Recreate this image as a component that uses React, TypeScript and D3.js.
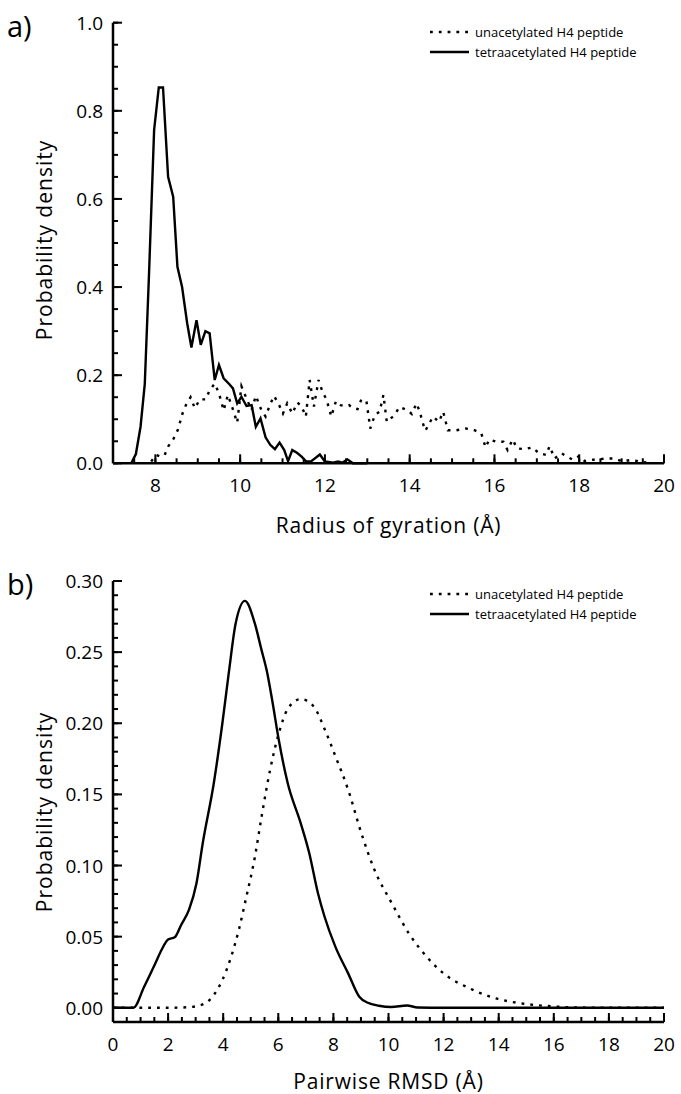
import React from "react";
import * as d3 from "d3";

// ---------- Panel a: Radius of gyration ----------
const rgUnacX = [7.9, 8.02, 8.12, 8.22, 8.3, 8.42, 8.53, 8.64, 8.72, 8.83, 8.93, 9.05, 9.19, 9.28, 9.4, 9.5, 9.61, 9.71, 9.82, 9.93, 10.03, 10.15, 10.27, 10.37, 10.5, 10.6, 10.7, 10.8, 10.92, 11.01, 11.11, 11.23, 11.35, 11.45, 11.55, 11.64, 11.74, 11.85, 11.94, 12.04, 12.15, 12.26, 12.37, 12.47, 12.57, 12.66, 12.77, 12.86, 12.98, 13.07, 13.18, 13.29, 13.38, 13.46, 13.64, 13.76, 13.94, 14.05, 14.16, 14.24, 14.3, 14.37, 14.55, 14.69, 14.79, 14.9, 15.1, 15.32, 15.53, 15.69, 15.79, 15.88, 16.04, 16.21, 16.31, 16.43, 16.53, 16.71, 16.89, 17.05, 17.22, 17.3, 17.42, 17.58, 17.73, 17.85, 18.01, 18.13, 18.32, 18.48, 18.64, 18.83, 19.03, 19.23, 19.42, 19.58];
const rgUnacY = [0.004, 0.019, 0.015, 0.019, 0.038, 0.054, 0.076, 0.113, 0.132, 0.15, 0.125, 0.145, 0.145, 0.166, 0.181, 0.159, 0.12, 0.155, 0.125, 0.092, 0.175, 0.147, 0.121, 0.153, 0.121, 0.106, 0.132, 0.153, 0.132, 0.113, 0.136, 0.113, 0.138, 0.129, 0.106, 0.189, 0.129, 0.189, 0.163, 0.144, 0.106, 0.141, 0.132, 0.13, 0.132, 0.125, 0.123, 0.145, 0.141, 0.079, 0.11, 0.117, 0.155, 0.094, 0.109, 0.128, 0.121, 0.112, 0.136, 0.117, 0.094, 0.074, 0.106, 0.094, 0.117, 0.075, 0.075, 0.079, 0.075, 0.068, 0.036, 0.054, 0.049, 0.049, 0.03, 0.054, 0.034, 0.032, 0.036, 0.023, 0.019, 0.039, 0.011, 0.023, 0.014, 0.008, 0.017, 0.005, 0.008, 0.009, 0.011, 0.011, 0.004, 0.008, 0.004, 0.002];

const rgAcetX = [7.43, 7.54, 7.65, 7.75, 7.85, 7.97, 8.08, 8.18, 8.3, 8.42, 8.52, 8.63, 8.75, 8.85, 8.97, 9.07, 9.18, 9.28, 9.4, 9.5, 9.61, 9.74, 9.83, 9.93, 10.03, 10.15, 10.27, 10.37, 10.48, 10.6, 10.71, 10.82, 10.93, 11.04, 11.13, 11.23, 11.34, 11.45, 11.56, 11.68, 11.88, 12.0, 12.19, 12.31, 12.41, 12.53, 12.66, 13.0];
const rgAcetY = [0, 0.021, 0.083, 0.18, 0.43, 0.756, 0.853, 0.853, 0.65, 0.605, 0.446, 0.4, 0.318, 0.263, 0.325, 0.269, 0.3, 0.295, 0.189, 0.223, 0.193, 0.18, 0.17, 0.136, 0.151, 0.13, 0.132, 0.083, 0.102, 0.059, 0.042, 0.032, 0.047, 0.03, 0.005, 0.03, 0.024, 0.015, 0.004, 0.005, 0.02, 0.004, 0.0015, 0.004, 0.0015, 0.009, 0, 0];

// ---------- Panel b: Pairwise RMSD ----------
const rmsdUnacX = [0, 1, 2, 2.8, 3.34, 3.66, 3.97, 4.29, 4.57, 4.84, 5.15, 5.39, 5.7, 6.02, 6.34, 6.81, 7.28, 7.68, 8.07, 8.54, 9.01, 9.49, 10.12, 10.75, 11.38, 12.01, 12.95, 13.9, 14.85, 15.8, 16.9, 18, 20];
const rmsdUnacY = [0, 0, 0, 0.0005, 0.003, 0.009, 0.0195, 0.036, 0.055, 0.078, 0.106, 0.134, 0.167, 0.193, 0.21, 0.217, 0.212, 0.196, 0.177, 0.153, 0.123, 0.097, 0.0735, 0.052, 0.036, 0.024, 0.0136, 0.0066, 0.003, 0.0012, 0.0002, 0, 0];

const rmsdAcetX = [0, 0.74, 1.13, 1.53, 1.77, 2.0, 2.24, 2.47, 2.76, 3.03, 3.26, 3.66, 3.97, 4.2, 4.45, 4.79, 5.15, 5.39, 5.58, 5.78, 6.02, 6.34, 6.81, 7.12, 7.44, 7.68, 8.07, 8.54, 8.94, 9.25, 9.65, 10.1, 10.67, 11.06, 12, 20];
const rmsdAcetY = [0, 0, 0.0148, 0.031, 0.041, 0.048, 0.0495, 0.058, 0.069, 0.0876, 0.116, 0.158, 0.2, 0.235, 0.27, 0.286, 0.27, 0.2516, 0.237, 0.216, 0.188, 0.158, 0.13, 0.109, 0.0805, 0.064, 0.043, 0.024, 0.0077, 0.0035, 0.0014, 0.0005, 0.0016, 0.0002, 0, 0];

// ---------- ticks & labels ----------
const rgXTicks = [8, 10, 12, 14, 16, 18, 20];
const rgYTicks = [0.0, 0.2, 0.4, 0.6, 0.8, 1.0];
const rmsdXTicks = [0, 2, 4, 6, 8, 10, 12, 14, 16, 18, 20];
const rmsdYTicks = [0.0, 0.05, 0.1, 0.15, 0.2, 0.25, 0.3];
const seriesNames = ["unacetylated H4 peptide", "tetraacetylated H4 peptide"];

const FONT = "'Open Sans', Lato, sans-serif";
const AXW = 2.5;
const LW = 2.4;

type PanelProps = {
  label: string;
  top: number;
  bottom: number;
  xDomain: [number, number];
  yDomain: [number, number];
  xTicks: number[];
  yTicks: number[];
  xMinorStep: number;
  yMinorStep: number;
  yFmt: (v: number) => string;
  xTitle: string;
  unacX: number[];
  unacY: number[];
  acetX: number[];
  acetY: number[];
  curve: d3.CurveFactory;
  legendY: number;
  labelY: number;
  xTitleY: number;
  yTitleY: number;
};

function Panel(p: PanelProps) {
  const left = 113;
  const right = 664;
  const x = d3.scaleLinear().domain(p.xDomain).range([left, right]);
  const y = d3.scaleLinear().domain(p.yDomain).range([p.bottom, p.top]);
  const line = d3
    .line<[number, number]>()
    .x((d) => x(d[0]))
    .y((d) => y(d[1]))
    .curve(p.curve);
  const unac = p.unacX.map((v, i) => [v, p.unacY[i]] as [number, number]);
  const acet = p.acetX.map((v, i) => [v, p.acetY[i]] as [number, number]);

  const xMinor = d3.range(p.xDomain[0], p.xDomain[1] + 1e-9, p.xMinorStep);
  const yStart = Math.ceil((p.yDomain[0] - 1e-9) / p.yMinorStep) * p.yMinorStep;
  const yMinor = d3.range(yStart, p.yDomain[1] + 1e-9, p.yMinorStep);
  const axisY = p.bottom;

  return (
    <g>
      <text x={7} y={p.labelY} fontSize={29} fontFamily={FONT}>
        {p.label}
      </text>
      {/* curves */}
      <path d={line(unac) || ""} fill="none" stroke="#000" strokeWidth={LW} strokeDasharray="2.8 6" />
      <path d={line(acet) || ""} fill="none" stroke="#000" strokeWidth={LW} strokeLinejoin="miter" />
      {/* axes */}
      <line x1={left} x2={left} y1={y(p.yDomain[1])} y2={axisY} stroke="#000" strokeWidth={AXW} />
      <line x1={left} x2={right} y1={axisY} y2={axisY} stroke="#000" strokeWidth={AXW} />
      {xMinor.map((v, i) => (
        <line key={"xm" + i} x1={x(v)} x2={x(v)} y1={axisY} y2={axisY - 5} stroke="#000" strokeWidth={2} />
      ))}
      {p.xTicks.map((v) => (
        <g key={"xt" + v}>
          <line x1={x(v)} x2={x(v)} y1={axisY} y2={axisY - 9} stroke="#000" strokeWidth={2} />
          <text x={x(v)} y={axisY + 29} textAnchor="middle" fontSize={19} fontFamily={FONT}>
            {v}
          </text>
        </g>
      ))}
      {yMinor.map((v, i) => (
        <line key={"ym" + i} x1={left} x2={left + 5} y1={y(v)} y2={y(v)} stroke="#000" strokeWidth={2} />
      ))}
      {p.yTicks.map((v) => (
        <g key={"yt" + v}>
          <line x1={left} x2={left + 9} y1={y(v)} y2={y(v)} stroke="#000" strokeWidth={2} />
          <text x={left - 10} y={y(v) + 7} textAnchor="end" fontSize={19} fontFamily={FONT}>
            {p.yFmt(v)}
          </text>
        </g>
      ))}
      <text
        transform={`translate(52, ${p.yTitleY}) rotate(-90)`}
        textAnchor="middle"
        fontSize={21}
        letterSpacing={1}
        fontFamily={FONT}
      >
        Probability density
      </text>
      <text
        x={(left + right) / 2}
        y={p.xTitleY}
        textAnchor="middle"
        fontSize={21}
        letterSpacing={0.8}
        fontFamily={FONT}
      >
        {p.xTitle}
      </text>
      {/* legend */}
      <line x1={430} x2={469} y1={p.legendY} y2={p.legendY} stroke="#000" strokeWidth={LW} strokeDasharray="2.8 6" />
      <text x={475} y={p.legendY + 4.5} fontSize={13} fontFamily={FONT}>
        {seriesNames[0]}
      </text>
      <line x1={430} x2={469} y1={p.legendY + 20} y2={p.legendY + 20} stroke="#000" strokeWidth={LW} />
      <text x={475} y={p.legendY + 24.5} fontSize={13} fontFamily={FONT}>
        {seriesNames[1]}
      </text>
    </g>
  );
}

export default function App() {
  return (
    <svg
      width={681}
      height={1094}
      style={{ position: "absolute", left: 0, top: 0, background: "#fff" }}
    >
      <rect width={681} height={1094} fill="#fff" />
      <Panel
        label="a)"
        top={22.7}
        bottom={463.3}
        xDomain={[7, 20]}
        yDomain={[0, 1]}
        xTicks={rgXTicks}
        yTicks={rgYTicks}
        xMinorStep={0.5}
        yMinorStep={0.05}
        yFmt={(v) => v.toFixed(1)}
        xTitle="Radius of gyration (Å)"
        unacX={rgUnacX}
        unacY={rgUnacY}
        acetX={rgAcetX}
        acetY={rgAcetY}
        curve={d3.curveLinear}
        legendY={32}
        labelY={37}
        xTitleY={533}
        yTitleY={240}
      />
      <Panel
        label="b)"
        top={581}
        bottom={1022}
        xDomain={[0, 20]}
        yDomain={[-0.01, 0.3]}
        xTicks={rmsdXTicks}
        yTicks={rmsdYTicks}
        xMinorStep={0.5}
        yMinorStep={0.01}
        yFmt={(v) => v.toFixed(2)}
        xTitle="Pairwise RMSD (Å)"
        unacX={rmsdUnacX}
        unacY={rmsdUnacY}
        acetX={rmsdAcetX}
        acetY={rmsdAcetY}
        curve={d3.curveMonotoneX}
        legendY={594}
        labelY={595}
        xTitleY={1089}
        yTitleY={812}
      />
    </svg>
  );
}
